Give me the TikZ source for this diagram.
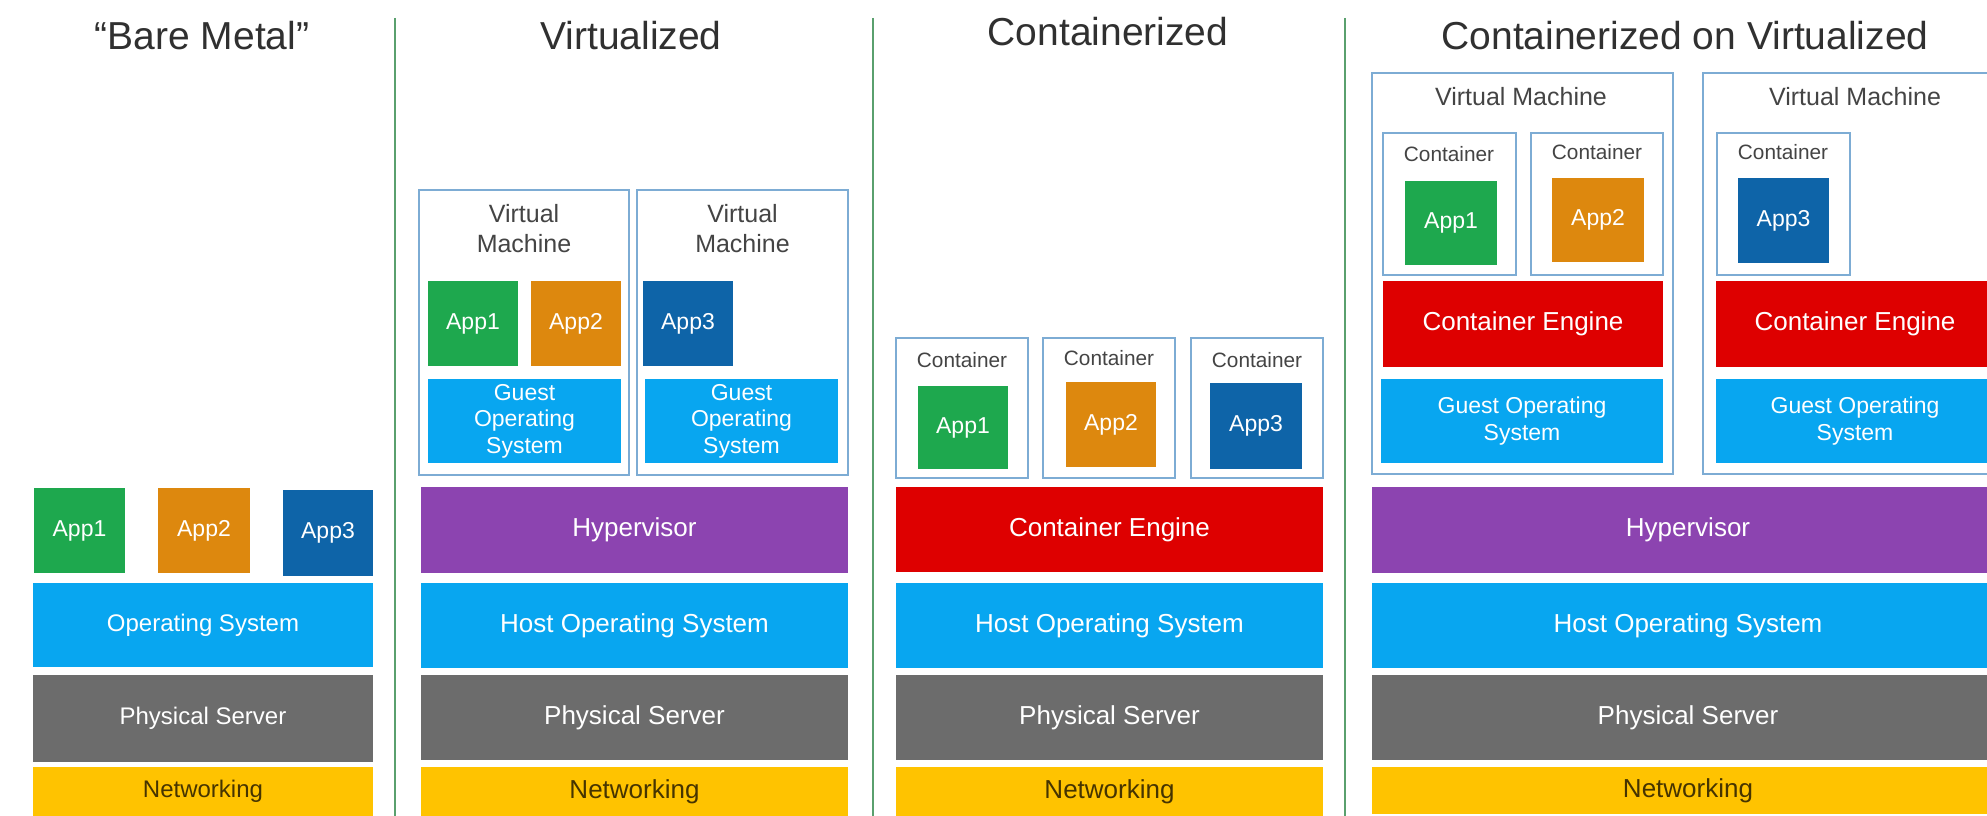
\documentclass[tikz,border=0pt]{standalone}
\usepackage{fontspec}
\setmainfont{Liberation Sans}
\definecolor{cgreen}{RGB}{30,168,78}
\definecolor{corange}{RGB}{221,136,14}
\definecolor{cblue}{RGB}{14,100,168}
\definecolor{clblue}{RGB}{8,166,240}
\definecolor{cgray}{RGB}{108,108,108}
\definecolor{cyellow}{RGB}{255,195,0}
\definecolor{cpurple}{RGB}{140,68,176}
\definecolor{cred}{RGB}{222,0,0}
\definecolor{cline}{RGB}{125,172,212}
\definecolor{cdiv}{RGB}{90,160,110}
\definecolor{ctitle}{RGB}{48,48,48}
\definecolor{clabel}{RGB}{68,68,68}
\definecolor{cnet}{RGB}{70,52,0}
\newcommand\bx[7]{\node[#6, minimum width={(#4-#2)*0.75pt}, minimum height={(#5-#3)*0.75pt}] (#1) at ({(#2+#4)/2},{(#3+#5)/2}) {#7};}
\tikzset{
  x=0.75pt, y=-0.75pt,
  bxs/.style={inner sep=0pt, outer sep=0pt, align=center, text=white, anchor=center},
  app/.style={bxs, font=\fontsize{17.25pt}{20pt}\selectfont},
  layA/.style={bxs, font=\fontsize{18pt}{21pt}\selectfont},
  lay/.style={bxs, font=\fontsize{19.5pt}{22pt}\selectfont},
  guest/.style={bxs, fill=clblue, font=\fontsize{17.25pt}{20pt}\selectfont},
  netbox/.style={fill=cyellow, text=cnet},
  frame/.style={inner sep=0pt, outer sep=0pt, anchor=center, draw=cline, line width=1.1pt, fill=white},
  vmlabel/.style={inner sep=0pt, align=center, text=clabel, font=\fontsize{18.75pt}{22.5pt}\selectfont},
  ctlabel/.style={inner sep=0pt, text=clabel, font=\fontsize{15.6pt}{18pt}\selectfont},
  title/.style={inner sep=0pt, anchor=base, text=ctitle, font=\fontsize{29.25pt}{35pt}\selectfont},
  divider/.style={draw=cdiv, line width=1.5pt},
}
\begin{document}
\begin{tikzpicture}
\useasboundingbox (0,0) rectangle (1987,816);
\clip (0,0) rectangle (1987,816);
\fill[white] (0,0) rectangle (1987,816);

% titles
\node[title] (t1) at (202,50) {“Bare Metal”};
\node[title] (t2) at (631,50) {Virtualized};
\node[title] (t3) at (1108,46) {Containerized};
\node[title] (t4) at (1685,50) {Containerized on Virtualized};

% dividers
\coordinate (d1a) at (395,18); \coordinate (d1b) at (395,816);
\coordinate (d2a) at (873,18); \coordinate (d2b) at (873,816);
\coordinate (d3a) at (1345,18); \coordinate (d3b) at (1345,816);
\draw[divider] (d1a) -- (d1b);
\draw[divider] (d2a) -- (d2b);
\draw[divider] (d3a) -- (d3b);

% ---- Bare Metal
\bx{bmA1}{34}{488}{125}{573}{app,fill=cgreen}{App1}
\bx{bmA2}{158}{488}{250}{573}{app,fill=corange}{App2}
\bx{bmA3}{283}{490}{373}{576}{app,fill=cblue}{App3}
\bx{bmOS}{33}{583}{373}{667}{layA,fill=clblue}{Operating System}
\bx{bmPS}{33}{675}{373}{762}{layA,fill=cgray}{Physical Server}
\bx{bmNW}{33}{767}{373}{816}{layA,netbox}{Networking}

% ---- Virtualized
\bx{vVM1}{419}{190}{629}{475}{frame}{}
\bx{vVM2}{637}{190}{848}{475}{frame}{}
\node[vmlabel] (vVM1l) at (524,229) {Virtual\\Machine};
\node[vmlabel] (vVM2l) at (742.5,229) {Virtual\\Machine};
\bx{vA1}{428}{281}{518}{366}{app,fill=cgreen}{App1}
\bx{vA2}{531}{281}{621}{366}{app,fill=corange}{App2}
\bx{vA3}{643}{281}{733}{366}{app,fill=cblue}{App3}
\bx{vG1}{428}{379}{621}{463}{guest,font=\fontsize{17.25pt}{19.9pt}\selectfont}{Guest\\Operating\\System}
\bx{vG2}{645}{379}{838}{463}{guest,font=\fontsize{17.25pt}{19.9pt}\selectfont}{Guest\\Operating\\System}
\bx{vHV}{421}{487}{848}{573}{lay,fill=cpurple}{Hypervisor}
\bx{vOS}{421}{583}{848}{668}{lay,fill=clblue}{Host Operating System}
\bx{vPS}{421}{675}{848}{760}{lay,fill=cgray}{Physical Server}
\bx{vNW}{421}{767}{848}{816}{lay,netbox}{Networking}

% ---- Containerized
\bx{cC1}{896}{338}{1028}{478}{frame}{}
\bx{cC2}{1043}{338}{1175}{478}{frame}{}
\bx{cC3}{1191}{338}{1323}{478}{frame}{}
\node[ctlabel] (cC1l) at (962,360) {Container};
\node[ctlabel] (cC2l) at (1109,358) {Container};
\node[ctlabel] (cC3l) at (1257,360) {Container};
\bx{cA1}{918}{386}{1008}{469}{app,fill=cgreen}{App1}
\bx{cA2}{1066}{382}{1156}{467}{app,fill=corange}{App2}
\bx{cA3}{1210}{383}{1302}{469}{app,fill=cblue}{App3}
\bx{cCE}{896}{487}{1323}{572}{lay,fill=cred}{Container Engine}
\bx{cOS}{896}{583}{1323}{668}{lay,fill=clblue}{Host Operating System}
\bx{cPS}{896}{675}{1323}{760}{lay,fill=cgray}{Physical Server}
\bx{cNW}{896}{767}{1323}{816}{lay,netbox}{Networking}

% ---- Containerized on Virtualized
\bx{wVM1}{1372}{73}{1673}{474}{frame}{}
\bx{wVM2}{1703}{73}{2010}{474}{frame}{}
\node[vmlabel] (wVM1l) at (1521,97) {Virtual Machine};
\node[vmlabel] (wVM2l) at (1855,97) {Virtual Machine};
\bx{wC1}{1383}{133}{1516}{275}{frame}{}
\bx{wC2}{1531}{133}{1663}{275}{frame}{}
\bx{wC3}{1717}{133}{1850}{275}{frame}{}
\node[ctlabel] (wC1l) at (1449,154) {Container};
\node[ctlabel] (wC2l) at (1597,152) {Container};
\node[ctlabel] (wC3l) at (1783,152) {Container};
\bx{wA1}{1405}{181}{1497}{265}{app,fill=cgreen}{App1}
\bx{wA2}{1552}{178}{1644}{262}{app,fill=corange}{App2}
\bx{wA3}{1738}{178}{1829}{263}{app,fill=cblue}{App3}
\bx{wCE1}{1383}{281}{1663}{367}{lay,fill=cred}{Container Engine}
\bx{wCE2}{1716}{281}{1994}{367}{lay,fill=cred}{Container Engine}
\bx{wG1}{1381}{379}{1663}{463}{guest,font=\fontsize{17.25pt}{20.25pt}\selectfont}{Guest Operating\\System}
\bx{wG2}{1716}{379}{1994}{463}{guest,font=\fontsize{17.25pt}{20.25pt}\selectfont}{Guest Operating\\System}
\bx{wHV}{1372}{487}{2004}{573}{lay,fill=cpurple}{Hypervisor}
\bx{wOS}{1372}{583}{2004}{668}{lay,fill=clblue}{Host Operating System}
\bx{wPS}{1372}{675}{2004}{760}{lay,fill=cgray}{Physical Server}
\bx{wNW}{1372}{767}{2004}{814}{lay,netbox}{Networking}
\end{tikzpicture}
\end{document}
